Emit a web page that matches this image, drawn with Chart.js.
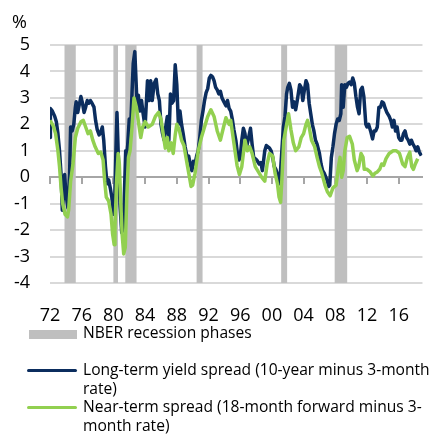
<!DOCTYPE html>
<html>
<head>
<meta charset="utf-8">
<script src="https://cdn.jsdelivr.net/npm/chart.js@4.4.0/dist/chart.umd.min.js"></script>
<style>
body { margin: 0; background: #fff; font-family: "Open Sans", sans-serif; color: #000; }
#wrap { position: relative; width: 431px; height: 434px; overflow: hidden; }
#spreadChart { position: absolute; left: 0; top: 0; }
#pct { position: absolute; left: 12px; top: 12px; font-size: 18px; line-height: 18px; }
.mark { position: absolute; }
#legendText { position: absolute; left: 83px; top: 323px; font-size: 15.6px; line-height: 18.6px; white-space: nowrap; }
</style>
</head>
<body>
<div id="wrap">
  <canvas id="spreadChart" width="431" height="322"></canvas>
  <div id="pct">%</div>
  <div class="mark" style="left:29px;top:330px;width:48px;height:9px;background:#bfbfbf"></div>
  <div class="mark" style="left:27px;top:369px;width:50px;height:3px;background:#0b2d5e;border-radius:2px"></div>
  <div class="mark" style="left:27px;top:406px;width:50px;height:3px;background:#92d050;border-radius:2px"></div>
  <div id="legendText">NBER recession phases<br>&nbsp;<br>Long-term yield spread (10-year minus 3-month<br>rate)<br>Near-term spread (18-month forward minus 3-<br>month rate)</div>
</div>
<script>
//x轴刻度
var tickYears = [1972, 1976, 1980, 1984, 1988, 1992, 1996, 2000, 2004, 2008, 2012, 2016];

//NBER衰退期
var recessionStart = [1973.83, 1980.0, 1981.5, 1990.5, 2001.17, 2007.92];
var recessionEnd = [1975.25, 1980.58, 1982.92, 1991.25, 2001.92, 2009.5];

//长期利差 (10年 - 3个月)
var longYears = [1972.0, 1972.05, 1972.3, 1972.6, 1972.8, 1973.0, 1973.2, 1973.4, 1973.55, 1973.7, 1973.85, 1974.0, 1974.26, 1974.47, 1974.6, 1974.8,
    1975.0, 1975.2, 1975.3, 1975.5, 1975.7, 1975.9, 1976.1, 1976.3, 1976.5, 1976.7, 1976.9, 1977.1, 1977.3, 1977.55, 1977.75, 1977.96,
    1978.2, 1978.4, 1978.6, 1978.78, 1979.0, 1979.2, 1979.4, 1979.6, 1979.8, 1980.0, 1980.15, 1980.3, 1980.45, 1980.6, 1980.84,
    1981.05, 1981.25, 1981.4, 1981.55, 1981.66, 1981.8, 1982.0, 1982.15, 1982.35, 1982.5, 1982.7, 1982.85, 1983.0, 1983.15, 1983.35,
    1983.55, 1983.75, 1984.0, 1984.3, 1984.5, 1984.7, 1984.9, 1985.15, 1985.4, 1985.6, 1985.8, 1986.0, 1986.2, 1986.4, 1986.6, 1986.8,
    1987.0, 1987.2, 1987.4, 1987.6, 1987.8, 1988.0, 1988.2, 1988.4, 1988.6, 1988.8, 1989.05, 1989.3, 1989.5, 1989.7, 1989.9,
    1990.1, 1990.3, 1990.5, 1990.7, 1990.9, 1991.1, 1991.3, 1991.5, 1991.7, 1991.9, 1992.1, 1992.3, 1992.5, 1992.7, 1992.9,
    1993.1, 1993.3, 1993.5, 1993.7, 1993.95, 1994.2, 1994.4, 1994.6, 1994.8, 1995.0, 1995.2, 1995.45, 1995.65, 1995.85,
    1996.0, 1996.2, 1996.4, 1996.6, 1996.8, 1997.0, 1997.3, 1997.5, 1997.7, 1998.1, 1998.4, 1998.6, 1998.8, 1999.1, 1999.3,
    1999.5, 1999.7, 1999.9, 2000.1, 2000.3, 2000.5, 2000.7, 2000.9, 2001.0, 2001.2, 2001.45, 2001.65, 2001.85, 2002.0, 2002.2,
    2002.4, 2002.6, 2002.8, 2003.0, 2003.2, 2003.5, 2003.7, 2003.9, 2004.1, 2004.3, 2004.5, 2004.7, 2004.9, 2005.1, 2005.3,
    2005.5, 2005.7, 2006.0, 2006.2, 2006.4, 2006.6, 2006.8, 2007.0, 2007.15, 2007.3, 2007.5, 2007.7, 2007.9, 2008.1, 2008.3,
    2008.5, 2008.7, 2008.8, 2009.0, 2009.2, 2009.4, 2009.6, 2009.8, 2010.0, 2010.2, 2010.4, 2010.6, 2010.8, 2011.0, 2011.2,
    2011.4, 2011.6, 2011.85, 2012.0, 2012.2, 2012.45, 2012.7, 2012.9, 2013.1, 2013.3, 2013.5, 2013.7, 2013.9, 2014.1, 2014.3,
    2014.5, 2014.8, 2015.0, 2015.2, 2015.4, 2015.6, 2015.8, 2016.0, 2016.2, 2016.4, 2016.6, 2016.8, 2017.0, 2017.2, 2017.4,
    2017.6, 2017.8, 2018.0, 2018.2, 2018.4, 2018.6, 2018.85];
var longSpread = [1.5, 2.6, 2.5, 2.3, 2.1, 1.65, 1.0, 0.1, -1.25, -0.7, 0.1, -0.6, -1.15, 0.1, 1.9, 1.75,
    2.0, 2.65, 2.85, 2.45, 2.75, 3.05, 2.8, 2.45, 2.65, 2.9, 2.8, 2.9, 2.8, 2.65, 2.15, 1.8,
    1.6, 1.7, 1.9, 1.4, 0.4, -0.25, -0.1, -0.4, -0.75, -1.4, -1.1, 0.8, 2.45, 1.0, -1.1,
    -2.1, -1.9, -0.5, 1.0, 0.8, 1.2, 2.2, 1.7, 3.2, 4.3, 4.75, 3.7, 2.6, 3.1, 2.5,
    2.9, 2.4, 1.9, 3.65, 2.9, 3.65, 2.9, 3.55, 3.7, 3.15, 2.9, 2.0, 1.65, 1.4, 1.9, 2.3,
    1.4, 3.15, 2.8, 2.9, 4.25, 3.5, 2.0, 2.5, 2.0, 1.65, 1.15, 0.75, 0.8, 0.5, 0.25,
    0.6, 0.5, 0.8, 1.0, 1.5, 2.15, 2.5, 2.9, 3.2, 3.35, 3.75, 3.85, 3.8, 3.65, 3.4,
    3.3, 3.15, 3.25, 3.0, 2.85, 2.7, 2.9, 2.6, 2.5, 2.2, 1.8, 1.4, 0.9, 0.65,
    0.76, 1.4, 1.85, 1.65, 1.15, 1.4, 1.85, 1.25, 0.75, 0.65, 0.5, 0.55, 0.25, 1.0, 1.2,
    1.15, 1.1, 1.0, 0.75, 0.4, 0.3, 0.1, -0.25, -0.15, 0.75, 1.9, 2.3, 3.15, 3.4, 3.55,
    3.3, 2.65, 2.85, 2.55, 2.9, 3.5, 3.4, 2.9, 3.3, 3.65, 3.5, 2.8, 2.4, 2.0, 1.75,
    1.4, 1.25, 0.9, 0.5, 0.25, 0.15, 0.0, -0.15, -0.35, -0.3, 0.75, 1.15, 1.65, 2.0, 2.2,
    2.15, 2.4, 3.5, 2.65, 3.5, 3.4, 3.55, 3.6, 3.5, 3.75, 3.55, 3.05, 2.65, 2.4, 3.3,
    3.4, 3.05, 2.0, 1.9, 2.0, 1.75, 1.45, 1.75, 1.75, 1.9, 2.65, 2.65, 2.85, 2.8, 2.6,
    2.45, 2.3, 2.15, 1.9, 2.15, 1.75, 1.9, 1.5, 1.4, 1.4, 1.65, 1.75, 1.5, 1.4, 1.25,
    1.4, 1.25, 1.15, 1.0, 1.15, 0.95, 0.82];

//近期利差 (18个月远期 - 3个月)
var nearYears = [1972.0, 1972.4, 1972.7, 1973.0, 1973.2, 1973.4, 1973.6, 1973.9, 1974.2, 1974.35, 1974.6, 1974.9,
    1975.2, 1975.5, 1975.9, 1976.2, 1976.5, 1976.8, 1977.1, 1977.4, 1977.7, 1978.1, 1978.4, 1978.7, 1978.9,
    1979.1, 1979.4, 1979.7, 1979.9, 1980.1, 1980.2, 1980.4, 1980.6, 1980.75, 1980.9, 1981.1, 1981.3, 1981.5,
    1981.7, 1981.9, 1982.1, 1982.35, 1982.6, 1982.9, 1983.2, 1983.45, 1983.7, 1984.0, 1984.4, 1984.9, 1985.3,
    1985.7, 1986.0, 1986.3, 1986.55, 1986.8, 1987.0, 1987.3, 1987.55, 1987.8, 1988.0, 1988.3, 1988.6, 1988.9,
    1989.3, 1989.6, 1989.8, 1990.0, 1990.3, 1990.7, 1991.1, 1991.5, 1991.9, 1992.3, 1992.7, 1993.1, 1993.5,
    1993.9, 1994.2, 1994.6, 1994.8, 1995.2, 1995.6, 1995.9, 1996.2, 1996.6, 1996.9, 1997.2, 1997.5, 1997.9,
    1998.3, 1998.7, 1999.1, 1999.4, 1999.7, 2000.1, 2000.4, 2000.7, 2000.9, 2001.1, 2001.3, 2001.5, 2001.8,
    2002.1, 2002.4, 2002.7, 2003.0, 2003.4, 2003.7, 2004.0, 2004.3, 2004.5, 2004.7, 2005.0, 2005.4, 2005.7,
    2006.0, 2006.3, 2006.7, 2007.0, 2007.35, 2007.7, 2008.1, 2008.4, 2008.6, 2008.8, 2009.0, 2009.2, 2009.5,
    2009.8, 2010.15, 2010.4, 2010.75, 2010.95, 2011.25, 2011.5, 2011.65, 2012.0, 2012.4, 2012.75, 2013.0,
    2013.3, 2013.6, 2013.85, 2014.1, 2014.4, 2014.8, 2015.3, 2015.7, 2016.1, 2016.5, 2016.8, 2017.1, 2017.4,
    2017.65, 2017.85, 2018.1, 2018.4];
var nearSpread = [2.15, 1.95, 1.65, 1.0, 0.4, -0.4, -1.0, -1.4, -1.5, -1.25, -0.15, 0.5,
    1.5, 1.85, 2.1, 2.15, 1.9, 1.65, 1.75, 1.4, 1.15, 0.9, 0.95, 0.65, -0.15,
    -0.75, -0.9, -1.4, -2.15, -2.55, -1.9, -0.15, 0.9, 0.5, -0.75, -2.15, -2.9, -2.65,
    -0.65, 0.75, 1.0, 1.9, 3.0, 2.65, 2.0, 1.5, 1.9, 2.1, 1.9, 2.0, 2.3,
    2.45, 2.2, 1.6, 1.1, 1.5, 1.0, 1.3, 0.9, 1.6, 2.0, 1.8, 1.4, 1.2,
    0.5, 0.0, -0.35, -0.3, 0.15, 1.0, 1.5, 1.9, 2.3, 2.55, 2.3, 1.75, 1.4,
    1.9, 2.25, 2.0, 2.15, 1.3, 0.45, 0.1, 0.4, 1.4, 1.0, 1.15, 0.9, 0.4,
    0.2, 0.0, -0.15, 0.5, 0.9, 0.8, 0.15, -0.25, -0.75, -0.95, 0.15, 1.4, 1.9,
    2.4, 1.8, 1.3, 1.0, 1.15, 1.5, 1.65, 2.0, 2.15, 1.9, 1.4, 1.15, 0.75,
    0.4, 0.15, -0.3, -0.55, -0.7, -0.4, -0.3, 0.4, 0.75, 0.0, 0.25, 1.0, 1.5,
    1.55, 1.25, 0.65, 0.25, 0.4, 0.9, 0.75, 0.3, 0.3, 0.2, 0.05, 0.15,
    0.2, 0.3, 0.5, 0.45, 0.7, 0.9, 1.0, 1.0, 0.9, 0.5, 0.4, 0.75, 0.95,
    0.4, 0.3, 0.5, 0.7];

//转成 {x, y} 点
function toPoints(xs, ys) {
    return xs.map(function (x, i) { return {x: x, y: ys[i]}; });
}

//衰退期灰色区域
var recessionBands = {
    id: "recessionBands",
    beforeDatasetsDraw: function (chart) {
        var ctx = chart.ctx;
        var xs = chart.scales.x;
        var area = chart.chartArea;
        ctx.save();
        ctx.fillStyle = "#bfbfbf";
        for (var i = 0; i < recessionStart.length; i++) {
            var x1 = xs.getPixelForValue(recessionStart[i]);
            var x2 = xs.getPixelForValue(recessionEnd[i]);
            ctx.fillRect(x1, area.top, x2 - x1, area.bottom - area.top);
        }
        ctx.restore();
    }
};

function setTicks(axis) {
    axis.ticks = tickYears.map(function (v) { return {value: v}; });
}

var font18 = {family: "'Open Sans', sans-serif", size: 18};

var spreadChart = new Chart(document.getElementById("spreadChart"), {
    type: "line",
    data: {
        datasets: [
            {
                label: "Near-term spread (18-month forward minus 3-month rate)",
                data: toPoints(nearYears, nearSpread),
                borderColor: "#92d050",
                borderWidth: 3.5,
                pointRadius: 0,
                tension: 0,
                borderJoinStyle: "round",
                order: 1
            },
            {
                label: "Long-term yield spread (10-year minus 3-month rate)",
                data: toPoints(longYears, longSpread),
                borderColor: "#0b2d5e",
                borderWidth: 3.5,
                pointRadius: 0,
                tension: 0,
                borderJoinStyle: "round",
                order: 2
            }
        ]
    },
    options: {
        responsive: false,
        animation: false,
        layout: {padding: {top: 45, right: 0, left: 0, bottom: 0}},
        plugins: {legend: {display: false}, tooltip: {enabled: false}},
        scales: {
            x: {
                type: "linear",
                position: "bottom",
                min: 1972,
                max: 2019,
                afterBuildTicks: setTicks,
                afterFit: function (axis) { axis.height = 39; },
                grid: {display: false, drawTicks: false},
                border: {display: false},
                ticks: {
                    font: font18,
                    color: "#000",
                    padding: 22,
                    maxRotation: 0,
                    autoSkip: false,
                    callback: function (v) { return String(v).slice(2); }
                }
            },
            x0: {
                type: "linear",
                position: {y: 0},
                min: 1972,
                max: 2019,
                afterBuildTicks: setTicks,
                grid: {display: true, drawOnChartArea: false, drawTicks: true, tickLength: 6, color: "#a6a6a6", lineWidth: 2},
                border: {display: true, color: "#a6a6a6", width: 2},
                ticks: {display: false}
            },
            y: {
                min: -4,
                max: 5,
                afterFit: function (axis) { axis.width = 50; },
                grid: {color: "#d9d9d9", lineWidth: 2, drawTicks: false},
                border: {display: false},
                ticks: {stepSize: 1, font: font18, color: "#000", padding: 20}
            }
        }
    },
    plugins: [recessionBands]
});
</script>
</body>
</html>
